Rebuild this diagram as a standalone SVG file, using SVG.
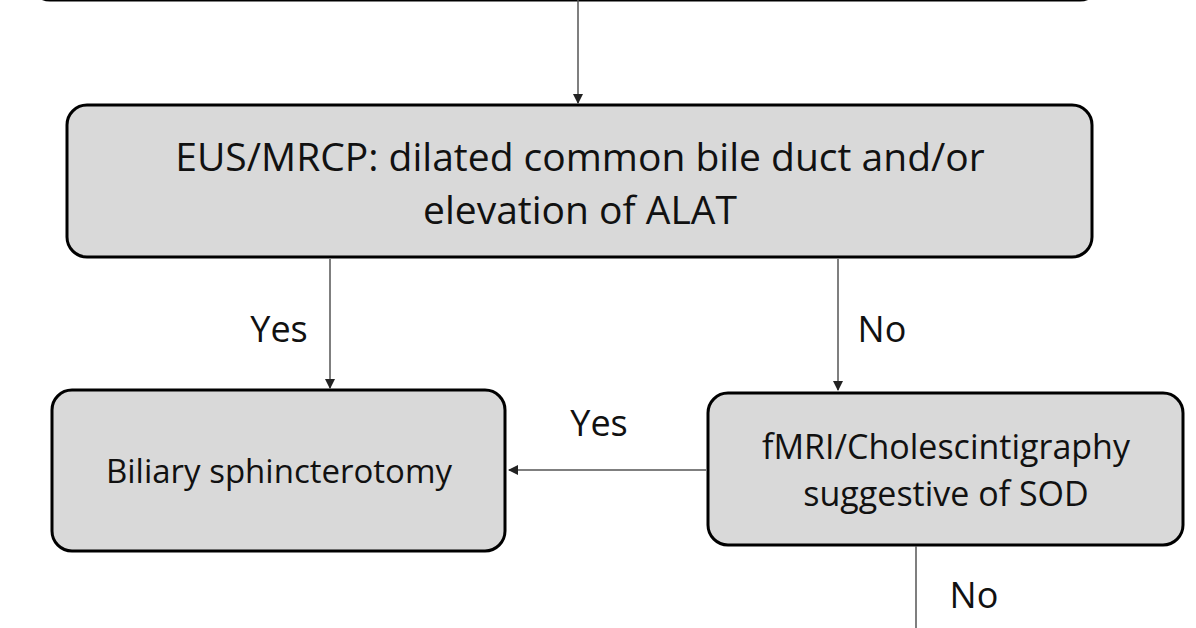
<svg xmlns="http://www.w3.org/2000/svg" width="1196" height="628" viewBox="0 0 1196 628">
<style>
.box{fill:#d9d9d9;stroke:#000;stroke-width:3}
.t{font-family:"Open Sans","Liberation Sans",sans-serif;fill:#111;text-anchor:middle}
.c{stroke:#555;stroke-width:1.5;fill:none}
</style>
<defs><marker id="a" markerWidth="10" markerHeight="10" refX="9" refY="5" orient="auto" markerUnits="userSpaceOnUse"><path d="M0,0 L10,5 L0,10 z" fill="#222"/></marker></defs>
<rect width="1196" height="628" fill="#fff"/>
<g id="top"><rect class="box" x="30" y="-40" width="1070" height="40" rx="20"/></g>
<g id="eus"><rect class="box" x="67" y="105" width="1025" height="152" rx="20"/>
<text class="t" x="580" y="171" font-size="39">EUS/MRCP: dilated common bile duct and/or</text>
<text class="t" x="580" y="224" font-size="39">elevation of ALAT</text></g>
<g id="bil"><rect class="box" x="52" y="390" width="453" height="161" rx="20"/>
<text class="t" x="279" y="483" font-size="33">Biliary sphincterotomy</text></g>
<g id="fmri"><rect class="box" x="708" y="393" width="475" height="152" rx="20"/>
<text class="t" x="946" y="459" font-size="34">fMRI/Cholescintigraphy</text>
<text class="t" x="946" y="506" font-size="34">suggestive of SOD</text></g>
<g id="connectors">
<line class="c" x1="578" y1="0" x2="578" y2="103" marker-end="url(#a)"/>
<line class="c" x1="330" y1="259" x2="330" y2="388" marker-end="url(#a)"/>
<line class="c" x1="838" y1="259" x2="838" y2="390" marker-end="url(#a)"/>
<line class="c" x1="706" y1="470" x2="509" y2="470" marker-end="url(#a)"/>
<line class="c" x1="916" y1="546" x2="916" y2="628"/>
<text class="t" x="279" y="342" font-size="36">Yes</text>
<text class="t" x="882" y="342" font-size="36">No</text>
<text class="t" x="599" y="436" font-size="36">Yes</text>
<text class="t" x="974" y="608" font-size="36">No</text>
</g>
</svg>
